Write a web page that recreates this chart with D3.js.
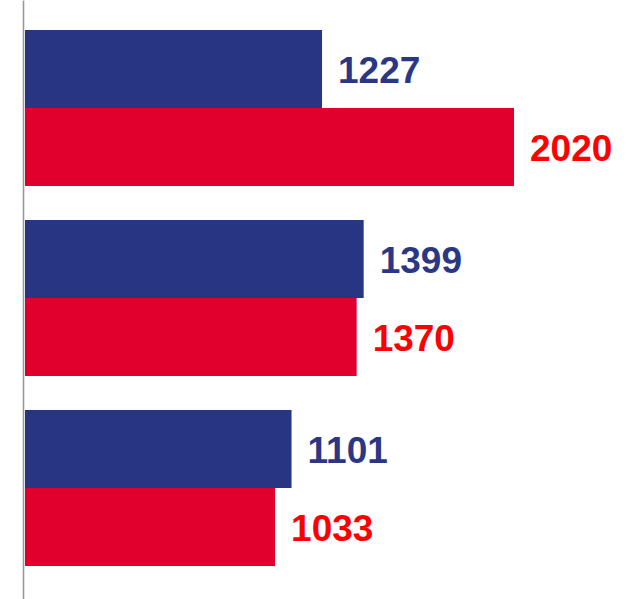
<!DOCTYPE html>
<html><head><meta charset="utf-8">
<script src="https://cdn.jsdelivr.net/npm/d3@7"></script>
<style>html,body{margin:0;padding:0;background:#fff;}svg{display:block;}</style>
</head><body>
<script>
const categories = ["Group 1", "Group 2", "Group 3"];
const seriesNames = ["Series A", "Series B"];
const seriesA = [1227, 1399, 1101];
const seriesB = [2020, 1370, 1033];
const barColors = ["#283583", "#E1002D"];
const labelColors = ["#2B3784", "#FF0000"];

const W = 638, H = 599;
const svg = d3.select("body").append("svg").attr("width", W).attr("height", H);

const x = d3.scaleLinear().domain([0, 2500]).range([25, 25 + 2500 * 0.24208]);
const y0 = d3.scaleBand().domain(categories).range([30, 566]).paddingInner(34 / 190).paddingOuter(0);
const y1 = d3.scaleBand().domain(seriesNames).range([0, y0.bandwidth()]).padding(0);

const rows = categories.map((c, i) => ({cat: c, vals: [seriesA[i], seriesB[i]]}));

const g = svg.selectAll("g.grp").data(rows).join("g")
  .attr("transform", d => `translate(0,${y0(d.cat)})`);

g.selectAll("rect").data(d => d.vals.map((v, j) => ({v, s: seriesNames[j], j})))
  .join("rect")
  .attr("x", x(0))
  .attr("y", d => y1(d.s))
  .attr("width", d => x(d.v) - x(0))
  .attr("height", y1.bandwidth())
  .attr("fill", d => barColors[d.j]);

g.selectAll("text").data(d => d.vals.map((v, j) => ({v, s: seriesNames[j], j})))
  .join("text")
  .attr("x", d => x(d.v) + 16)
  .attr("y", d => y1(d.s) + y1.bandwidth() / 2 + 1)
  .attr("dy", "0.36em")
  .attr("font-family", "Liberation Sans, Arial, sans-serif")
  .attr("font-weight", "bold")
  .attr("font-size", 37)
  .attr("fill", d => labelColors[d.j])
  .text(d => d.v);

// vertical axis line
const yAxis = d3.axisLeft(d3.scaleLinear().range([0, H])).ticks(0).tickSize(0).tickFormat("");
svg.append("g").attr("transform", "translate(23,0)").call(yAxis)
  .select(".domain").attr("stroke", "#999").attr("stroke-width", 1.6);
</script>
</body></html>
